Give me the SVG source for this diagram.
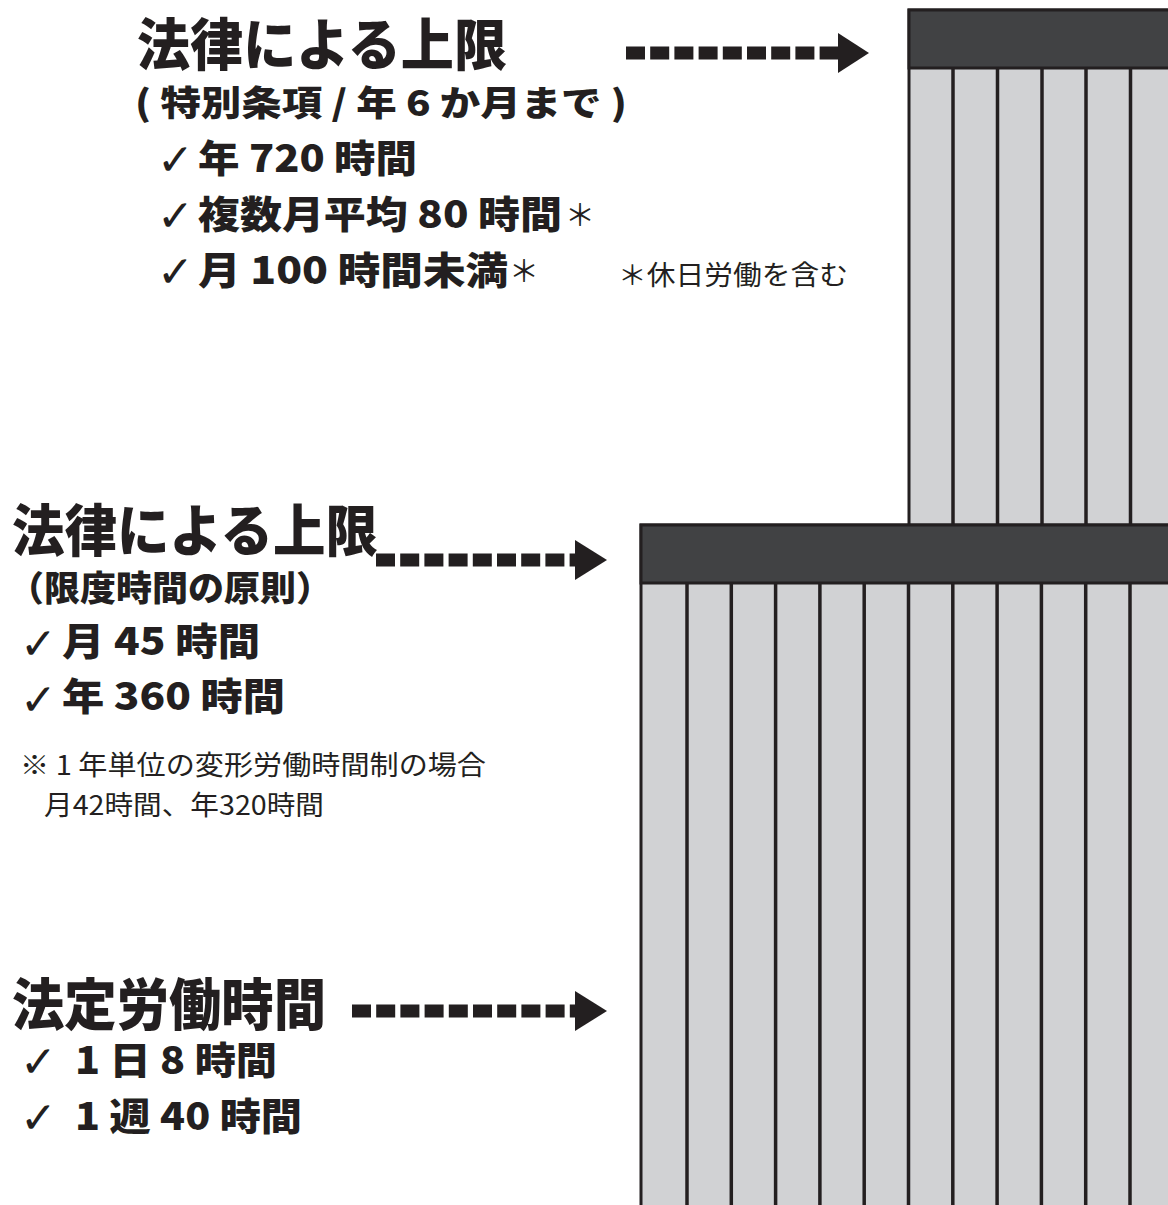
<svg xmlns="http://www.w3.org/2000/svg" width="1168" height="1205" viewBox="0 0 1168 1205">
<defs>
<style>
.h{font-family:"Noto Sans CJK JP","Noto Sans",sans-serif;font-weight:900;fill:#231f20}
.r{font-family:"Noto Sans CJK JP","Noto Sans",sans-serif;font-weight:400;fill:#231f20}
.ck{font-family:"DejaVu Sans",sans-serif;font-weight:700;fill:#231f20}
.bar{fill:#d1d2d4;stroke:#231f20;stroke-width:3}
.hdr{fill:#414244;stroke:#231f20;stroke-width:3}
.div{stroke:#231f20;stroke-width:3.5}
.sq{fill:#231f20}
</style>
<g id="dashes">
<rect class="sq" x="0" y="-6.5" width="19" height="13"/>
<rect class="sq" x="24.2" y="-6.5" width="19" height="13"/>
<rect class="sq" x="48.4" y="-6.5" width="19" height="13"/>
<rect class="sq" x="72.6" y="-6.5" width="19" height="13"/>
<rect class="sq" x="96.8" y="-6.5" width="19" height="13"/>
<rect class="sq" x="121" y="-6.5" width="19" height="13"/>
<rect class="sq" x="145.2" y="-6.5" width="19" height="13"/>
<rect class="sq" x="169.4" y="-6.5" width="19" height="13"/>
<rect class="sq" x="193.6" y="-6.5" width="19" height="13"/>
</g>
</defs>
<rect width="1168" height="1205" fill="#ffffff"/>

<g id="upper-block">
<rect class="bar" x="909" y="10" width="270" height="520"/>
<rect class="hdr" x="909" y="10" width="270" height="58"/>
<line class="div" x1="953" y1="68" x2="953" y2="525"/>
<line class="div" x1="997.5" y1="68" x2="997.5" y2="525"/>
<line class="div" x1="1042" y1="68" x2="1042" y2="525"/>
<line class="div" x1="1086" y1="68" x2="1086" y2="525"/>
<line class="div" x1="1130.5" y1="68" x2="1130.5" y2="525"/>
</g>

<g id="lower-block">
<rect class="bar" x="641" y="525" width="540" height="690"/>
<rect class="hdr" x="641" y="525" width="540" height="58"/>
<line class="div" x1="687" y1="583" x2="687" y2="1205"/>
<line class="div" x1="731.3" y1="583" x2="731.3" y2="1205"/>
<line class="div" x1="775.6" y1="583" x2="775.6" y2="1205"/>
<line class="div" x1="819.9" y1="583" x2="819.9" y2="1205"/>
<line class="div" x1="864.2" y1="583" x2="864.2" y2="1205"/>
<line class="div" x1="908.5" y1="583" x2="908.5" y2="1205"/>
<line class="div" x1="952.8" y1="583" x2="952.8" y2="1205"/>
<line class="div" x1="997.1" y1="583" x2="997.1" y2="1205"/>
<line class="div" x1="1041.4" y1="583" x2="1041.4" y2="1205"/>
<line class="div" x1="1085.7" y1="583" x2="1085.7" y2="1205"/>
<line class="div" x1="1130" y1="583" x2="1130" y2="1205"/>
</g>

<g id="connectors">
<g transform="translate(626,53)">
<use href="#dashes"/>
<polygon class="sq" points="212,-20 243,0 212,20"/>
</g>
<g transform="translate(376,560)">
<use href="#dashes"/>
<polygon class="sq" points="199,-20 231,0 199,20"/>
</g>
<g transform="translate(352,1011)">
<use href="#dashes"/>
<rect class="sq" x="217.8" y="-6.5" width="19" height="13"/>
<polygon class="sq" points="223,-20 255,0 223,20"/>
</g>
</g>

<g id="special-limit">
<text class="h" x="137" y="65" font-size="56" textLength="370" lengthAdjust="spacingAndGlyphs">法律による上限</text>
<text class="h" x="135" y="116" font-size="35" textLength="492" lengthAdjust="spacingAndGlyphs">( 特別条項 / 年 6 か月まで )</text>
<text class="ck" x="157" y="175" font-size="44">✓</text>
<text class="h" x="198" y="172" font-size="38" textLength="219" lengthAdjust="spacingAndGlyphs">年 720 時間</text>
<text class="ck" x="157" y="231" font-size="44">✓</text>
<text class="h" x="198" y="228" font-size="38" textLength="364" lengthAdjust="spacingAndGlyphs">複数月平均 80 時間</text>
<text class="r" x="565" y="226" font-size="30">＊</text>
<text class="ck" x="157" y="287" font-size="44">✓</text>
<text class="h" x="198" y="284" font-size="38" textLength="310" lengthAdjust="spacingAndGlyphs">月 100 時間未満</text>
<text class="r" x="509" y="282" font-size="30">＊</text>
<text class="r" x="618" y="285" font-size="27" textLength="230" lengthAdjust="spacingAndGlyphs">＊休日労働を含む</text>
</g>

<g id="standard-limit">
<text class="h" x="12" y="551" font-size="56" textLength="366" lengthAdjust="spacingAndGlyphs">法律による上限</text>
<text class="h" x="8" y="601" font-size="35" textLength="324" lengthAdjust="spacingAndGlyphs">（限度時間の原則）</text>
<text class="ck" x="20" y="659" font-size="44">✓</text>
<text class="h" x="62" y="655" font-size="38" textLength="198" lengthAdjust="spacingAndGlyphs">月 45 時間</text>
<text class="ck" x="20" y="715" font-size="44">✓</text>
<text class="h" x="62" y="710" font-size="38" textLength="223" lengthAdjust="spacingAndGlyphs">年 360 時間</text>
<text class="r" x="20" y="775" font-size="27" textLength="466" lengthAdjust="spacingAndGlyphs">※ 1 年単位の変形労働時間制の場合</text>
<text class="r" x="44" y="815" font-size="27" textLength="280" lengthAdjust="spacingAndGlyphs">月42時間、年320時間</text>
</g>

<g id="statutory-hours">
<text class="h" x="12" y="1025" font-size="56" textLength="314" lengthAdjust="spacingAndGlyphs">法定労働時間</text>
<text class="ck" x="20" y="1077" font-size="44">✓</text>
<text class="h" x="75" y="1074" font-size="38" textLength="202" lengthAdjust="spacingAndGlyphs">1 日 8 時間</text>
<text class="ck" x="20" y="1133" font-size="44">✓</text>
<text class="h" x="75" y="1130" font-size="38" textLength="227" lengthAdjust="spacingAndGlyphs">1 週 40 時間</text>
</g>
</svg>
